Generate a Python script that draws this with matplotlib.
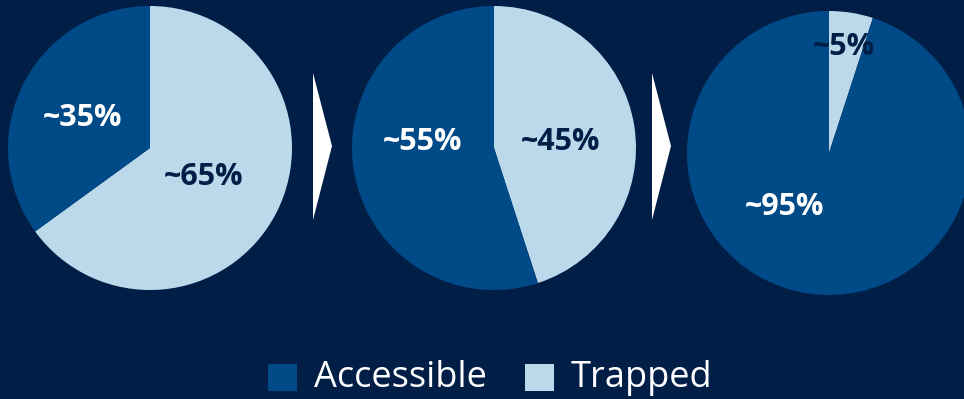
import matplotlib.pyplot as plt
from matplotlib.patches import Polygon, Rectangle

# data
stages = ["Stage 1", "Stage 2", "Stage 3"]
trapped = [65, 45, 5]
accessible = [35, 55, 95]
trapped_labels = ["~65%", "~45%", "~5%"]
accessible_labels = ["~35%", "~55%", "~95%"]

bg = "#011e47"
dark = "#004a87"
light = "#bbd9ea"

# layout in pixel coords (y up)
centers = [(150, 251), (494, 251), (829, 246)]
radius = 142
trap_pos = [(204, 222), (561, 257), (844, 352)]
acc_pos = [(83, 281), (423, 257), (784, 192)]

fig = plt.figure(figsize=(9.64, 3.99), dpi=100)
fig.patch.set_facecolor(bg)
ax = fig.add_axes([0, 0, 1, 1])
ax.set_facecolor(bg)

for i in range(len(stages)):
    ax.pie([trapped[i], accessible[i]], colors=[light, dark], startangle=90,
           counterclock=False, center=centers[i], radius=radius,
           wedgeprops=dict(linewidth=0))
    ax.text(trap_pos[i][0], trap_pos[i][1], trapped_labels[i], color=bg,
            fontsize=22, fontweight="bold", family="Open Sans", ha="center", va="center")
    ax.text(acc_pos[i][0], acc_pos[i][1], accessible_labels[i], color="white",
            fontsize=22, fontweight="bold", family="Open Sans", ha="center", va="center")

# arrows between pies
for x0 in [313, 652]:
    ax.add_patch(Polygon([(x0, 326), (x0 + 19, 253), (x0, 179)], closed=True,
                         facecolor="white", edgecolor="none"))

# legend
ax.add_patch(Rectangle((268, 8), 29, 27, facecolor=dark, edgecolor="none"))
ax.text(314, 21, "Accessible", color="white", fontsize=26, family="Open Sans", va="center")
ax.add_patch(Rectangle((525, 8), 29, 27, facecolor=light, edgecolor="none"))
ax.text(571, 21, "Trapped", color="white", fontsize=26, family="Open Sans", va="center")

ax.set_xlim(0, 964)
ax.set_ylim(0, 399)
ax.set_aspect("equal")
ax.axis("off")

fig.savefig("out.png", dpi=100, facecolor=bg)
